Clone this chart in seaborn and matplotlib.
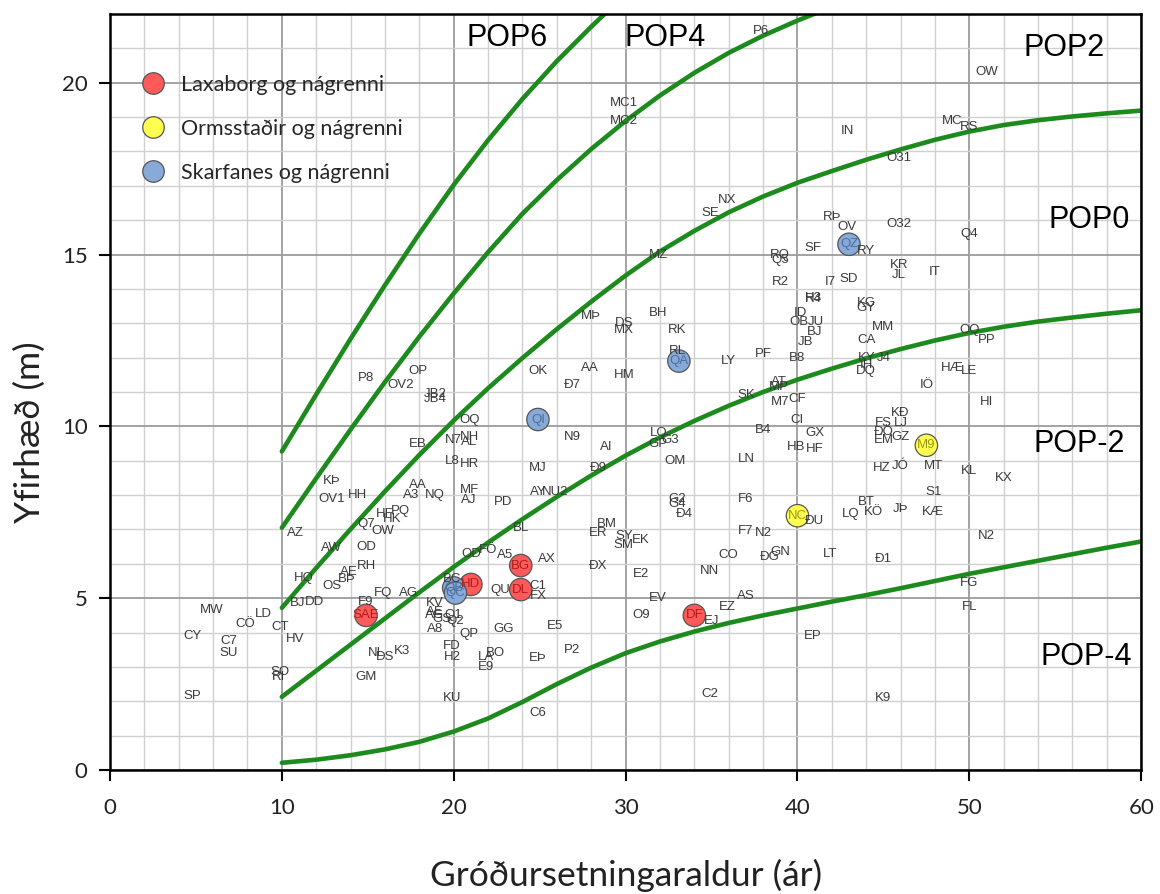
import numpy as np
import pandas as pd
import seaborn as sns
import matplotlib.pyplot as plt
from matplotlib.ticker import MultipleLocator
from matplotlib.lines import Line2D

sns.set_theme(style="white")
plt.rcParams['font.family'] = ['Liberation Sans', 'DejaVu Sans']

# boundary curves between the POP classes
curveA_x = [10, 12, 14, 16, 18, 20, 22, 24, 26, 28, 30]
curveA_y = [9.27, 10.93, 12.55, 14.11, 15.61, 17.03, 18.33, 19.53, 20.63, 21.63, 22.58]
curveB_x = [10, 12, 14, 16, 18, 20, 22, 24, 26, 28, 30, 32, 34, 36, 38, 40, 42]
curveB_y = [7.05, 8.49, 9.91, 11.29, 12.61, 13.87, 15.07, 16.19, 17.17, 18.07, 18.89, 19.63, 20.29,
            20.87, 21.37, 21.81, 22.21]
curve_x = [10, 12, 14, 16, 18, 20, 22, 24, 26, 28, 30, 32, 34, 36, 38, 40, 42, 44, 46, 48, 50, 52, 54, 56, 58, 60]
curveC_y = [4.72, 5.88, 7.01, 8.11, 9.17, 10.17, 11.11, 11.99, 12.83, 13.63, 14.39, 15.09, 15.69, 16.23,
            16.69, 17.09, 17.43, 17.76, 18.06, 18.34, 18.58, 18.77, 18.91, 19.02, 19.11, 19.19]
curveD_y = [2.13, 2.89, 3.65, 4.41, 5.17, 5.91, 6.62, 7.3, 7.95, 8.57, 9.15, 9.68, 10.16, 10.6, 11.0,
            11.36, 11.68, 11.98, 12.25, 12.5, 12.72, 12.9, 13.05, 13.17, 13.28, 13.38]
curveE_y = [0.21, 0.3, 0.43, 0.6, 0.82, 1.12, 1.5, 1.98, 2.5, 2.98, 3.4, 3.74, 4.03, 4.28, 4.5, 4.7,
            4.9, 5.09, 5.29, 5.5, 5.71, 5.9, 6.09, 6.28, 6.47, 6.65]

pop_names = ["POP6", "POP4", "POP2", "POP0", "POP-2", "POP-4"]
pop_x = [23.1, 32.3, 55.5, 57.0, 56.4, 56.8]
pop_y = [21.3, 21.3, 21.0, 16.0, 9.5, 3.3]

# labelled stands (no marker, just the label)
tree_names = [
    "P6", "MC1", "MC2", "OW", "MC", "RS", "IN", "O31", "NX", "SE", "RÞ", "OV", "O32", "Q4", "RY", "SF",
    "RQ", "Q5", "MZ", "KR", "JL", "IT", "I7", "SD", "R2", "H3", "R4", "KG", "GY", "MÞ", "DS", "MX", "BH", "RK",
    "ID", "OB", "JU", "BJ", "JB", "MM", "CA", "OQ", "PP", "RL", "LY", "PF", "B8", "KY", "J4", "IH", "DQ",
    "HÆ", "LE", "IÖ", "HI", "OK", "AA", "HM", "Ð7", "P8", "OP", "OV2", "JB2", "JB4", "AT", "MP", "SK", "M7",
    "CF", "CI", "KÐ", "FS", "LJ", "GX", "ÐÖ", "GZ", "EM", "HB", "HF", "B4", "OQ", "NH", "N7", "AL", "EB",
    "N9", "LQ", "G3", "GP", "AI", "L8", "HR", "MJ", "Ð9", "OM", "LN", "HZ", "JÓ", "MT", "KL", "KX", "KÞ",
    "HH", "OV1", "AA", "A3", "NQ", "MF", "AJ", "PD", "AY", "NU2", "G2", "G4", "Ð4", "F6", "S1", "BT", "KÖ",
    "JÞ", "LQ", "KÆ", "ÐU", "PQ", "HF", "HK", "Q7", "OW", "AZ", "BL", "BM", "ER", "SY", "EK", "SM", "F7",
    "N2", "N2", "AW", "OD", "OD", "FÖ", "A5", "AX", "CO", "GN", "ÐG", "LT", "Ð1", "RH", "ÐX", "E2", "NN",
    "HQ", "AE", "BÞ", "OS", "BC", "QU", "C1", "FX", "FG", "FQ", "AG", "BJ", "DD", "F9", "KV", "EV", "AS",
    "MW", "LD", "CÖ", "CT", "AE", "AG", "GS", "Q1", "Q2", "A8", "O9", "EJ", "EZ", "FL", "CY", "C7", "SU",
    "HV", "QP", "GG", "E5", "EP", "FD", "H2", "P2", "NL", "DS", "K3", "BO", "LA", "E9", "EÞ", "SO", "RI",
    "GM", "SP", "KU", "C2", "K9", "C6",
]
tree_x = [
    37.9, 29.9, 29.9, 51.0, 49.0, 50.0, 42.9, 45.9, 35.9, 34.9, 42.0, 42.9, 45.9, 50.0, 44.0, 40.9,
    39.0, 39.0, 31.9, 45.9, 45.9, 48.0, 41.9, 43.0, 39.0, 40.9, 40.9, 44.0, 44.0, 28.0, 29.9, 29.9, 31.9, 33.0,
    40.2, 40.1, 41.1, 41.0, 40.5, 45.0, 44.0, 50.0, 51.0, 33.0, 36.0, 38.0, 40.0, 44.0, 45.0, 44.0, 44.0,
    49.0, 50.0, 47.5, 51.0, 24.9, 27.9, 29.9, 26.9, 14.9, 17.9, 16.9, 18.9, 18.9, 38.9, 38.9, 37.0, 39.0,
    40.0, 40.0, 46.0, 45.0, 46.0, 41.0, 45.0, 46.0, 45.0, 39.9, 41.0, 38.0, 20.9, 20.9, 20.0, 20.9, 17.9,
    26.9, 31.9, 32.6, 31.9, 28.9, 19.9, 20.9, 24.9, 28.4, 32.9, 37.0, 44.9, 46.0, 47.9, 50.0, 52.0, 12.9,
    14.4, 12.9, 17.9, 17.5, 18.9, 20.9, 20.9, 22.9, 24.9, 25.9, 33.0, 33.0, 33.4, 37.0, 47.9, 44.0, 44.4,
    46.0, 43.1, 47.9, 41.0, 16.9, 16.0, 16.4, 14.9, 15.9, 10.8, 23.9, 28.9, 28.4, 29.9, 30.9, 29.9, 37.0,
    38.0, 51.0, 12.9, 14.9, 21.0, 22.0, 23.0, 25.4, 36.0, 39.0, 38.4, 41.9, 45.0, 14.9, 28.4, 30.9, 34.9,
    11.3, 13.9, 13.8, 12.9, 19.9, 22.7, 24.9, 24.9, 50.0, 15.9, 17.4, 10.9, 11.9, 14.9, 18.9, 31.9, 37.0,
    5.9, 8.9, 7.9, 9.9, 18.9, 18.9, 19.3, 20.0, 20.1, 18.9, 30.9, 35.0, 35.9, 50.0, 4.8, 6.9, 6.9,
    10.8, 20.9, 22.9, 25.9, 40.9, 19.9, 19.9, 26.9, 15.5, 16.0, 17.0, 22.4, 21.9, 21.9, 24.9, 9.9, 9.8,
    14.9, 4.8, 19.9, 34.9, 45.0, 24.9,
]
tree_y = [
    21.5, 19.4, 18.9, 20.3, 18.9, 18.7, 18.6, 17.8, 16.6, 16.2, 16.1, 15.8, 15.9, 15.6, 15.1, 15.2,
    15.0, 14.85, 15.0, 14.7, 14.4, 14.5, 14.2, 14.3, 14.2, 13.75, 13.7, 13.6, 13.45, 13.2, 13.0, 12.8, 13.3, 12.8,
    13.3, 13.05, 13.05, 12.75, 12.45, 12.9, 12.5, 12.8, 12.5, 12.2, 11.9, 12.1, 12.0, 12.0, 12.0, 11.8, 11.6,
    11.7, 11.6, 11.2, 10.7, 11.6, 11.7, 11.5, 11.2, 11.4, 11.6, 11.2, 10.95, 10.8, 11.3, 11.15, 10.9, 10.7,
    10.8, 10.2, 10.4, 10.1, 10.1, 9.8, 9.85, 9.7, 9.6, 9.4, 9.35, 9.9, 10.2, 9.7, 9.6, 9.55, 9.5,
    9.7, 9.8, 9.6, 9.5, 9.4, 9.0, 8.9, 8.8, 8.8, 9.0, 9.05, 8.8, 8.85, 8.85, 8.7, 8.5, 8.4,
    8.0, 7.9, 8.3, 8.0, 8.0, 8.15, 7.85, 7.8, 8.1, 8.1, 7.9, 7.75, 7.45, 7.9, 8.1, 7.8, 7.5,
    7.6, 7.45, 7.5, 7.25, 7.55, 7.45, 7.3, 7.15, 6.95, 6.9, 7.05, 7.15, 6.9, 6.8, 6.7, 6.55, 6.95,
    6.9, 6.8, 6.45, 6.5, 6.3, 6.4, 6.25, 6.15, 6.25, 6.35, 6.2, 6.3, 6.15, 5.95, 5.95, 5.7, 5.8,
    5.6, 5.75, 5.55, 5.35, 5.55, 5.25, 5.35, 5.05, 5.45, 5.15, 5.15, 4.85, 4.9, 4.9, 4.85, 5.0, 5.05,
    4.65, 4.55, 4.25, 4.15, 4.6, 4.5, 4.4, 4.5, 4.35, 4.1, 4.5, 4.35, 4.75, 4.75, 3.9, 3.75, 3.4,
    3.8, 3.95, 4.1, 4.2, 3.9, 3.6, 3.3, 3.5, 3.4, 3.3, 3.45, 3.4, 3.3, 3.0, 3.25, 2.85, 2.7,
    2.7, 2.15, 2.1, 2.2, 2.1, 1.65,
]

# stands in the three survey areas (coloured circles)
area_names = ["Laxaborg og nágrenni", "Ormsstaðir og nágrenni", "Skarfanes og nágrenni"]
area_colors = ["#ff5a5a", "#ffff50", "#88aad8"]
area_text = ["#b01c1c", "#9a9a10", "#4d6e9e"]
lax_labels = ["SAE", "HD", "BG", "DL", "DF"]
lax_x = [14.9, 21.0, 23.9, 23.9, 34.0]
lax_y = [4.5, 5.4, 5.95, 5.25, 4.5]
orm_labels = ["NC", "M9"]
orm_x = [40.0, 47.5]
orm_y = [7.4, 9.45]
ska_labels = ["QZ", "QA", "QI", "QB", "QC"]
ska_x = [43.0, 33.1, 24.9, 20.0, 20.1]
ska_y = [15.3, 11.9, 10.2, 5.3, 5.15]

areas = pd.DataFrame({
    "label": lax_labels + orm_labels + ska_labels,
    "x": lax_x + orm_x + ska_x,
    "y": lax_y + orm_y + ska_y,
    "area": [area_names[0]] * len(lax_x) + [area_names[1]] * len(orm_x) + [area_names[2]] * len(ska_x),
})

fig = plt.figure(figsize=(11.6, 8.94), dpi=100)
ax = fig.add_axes([0.0948, 0.1387, 0.889, 0.8456])

green = "#1c8a1c"
sns.lineplot(x=curveA_x, y=curveA_y, color=green, lw=3.3, ax=ax)
sns.lineplot(x=curveB_x, y=curveB_y, color=green, lw=3.3, ax=ax)
for cy in [curveC_y, curveD_y, curveE_y]:
    sns.lineplot(x=curve_x, y=cy, color=green, lw=3.3, ax=ax)

sns.scatterplot(data=areas, x="x", y="y", hue="area", palette=area_colors, s=260,
                edgecolor="#555555", linewidth=0.9, legend=False, ax=ax, zorder=4)

for name, x, y in zip(tree_names, tree_x, tree_y):
    ax.text(x, y, name, ha="center", va="center", fontsize=9.5, color="#3a3a3a", zorder=5)
for _, r in areas.iterrows():
    c = area_text[area_names.index(r["area"])]
    ax.text(r["x"], r["y"], r["label"], ha="center", va="center", fontsize=9.5, color=c, zorder=6)

for name, x, y in zip(pop_names, pop_x, pop_y):
    ax.text(x, y, name, ha="center", va="center", fontsize=22, color="black", zorder=6)

ax.set_xlim(0, 60)
ax.set_ylim(0, 22)
ax.xaxis.set_major_locator(MultipleLocator(10))
ax.xaxis.set_minor_locator(MultipleLocator(2))
ax.yaxis.set_major_locator(MultipleLocator(5))
ax.yaxis.set_minor_locator(MultipleLocator(1))
ax.grid(which="major", color="#9c9c9c", lw=1.3, zorder=0)
ax.grid(which="minor", color="#d0d0d0", lw=1.0, zorder=0)
ax.set_axisbelow(True)
for s in ax.spines.values():
    s.set_color("black")
    s.set_linewidth(1.8)
ax.tick_params(which="major", direction="out", length=8, width=1.5, colors="black",
               bottom=True, left=True, labelsize=16)
ax.tick_params(axis="x", pad=12)
ax.tick_params(axis="y", pad=8)
ax.tick_params(which="minor", length=0)
for lab in ax.get_xticklabels() + ax.get_yticklabels():
    lab.set_fontfamily("Lato")
    lab.set_color("#222222")

ax.set_xlabel("Gróðursetningaraldur (ár)", fontsize=25.5, family="Lato", color="#222222")
ax.set_ylabel("Yfirhæð (m)", fontsize=25.5, family="Lato", color="#222222")
ax.xaxis.set_label_coords(0.5, -0.118)
ax.yaxis.set_label_coords(-0.062, 0.447)

handles = [Line2D([], [], ls="", marker="o", markersize=15.5, markerfacecolor=c,
                  markeredgecolor="#555555", markeredgewidth=0.9) for c in area_colors]
ax.legend(handles, area_names, loc="upper left", bbox_to_anchor=(0.0966, 0.938),
          bbox_transform=fig.transFigure, frameon=False, labelspacing=1.11,
          handletextpad=0.3, prop={"family": "Lato", "size": 15.5})

fig.savefig("out.png", dpi=100)
